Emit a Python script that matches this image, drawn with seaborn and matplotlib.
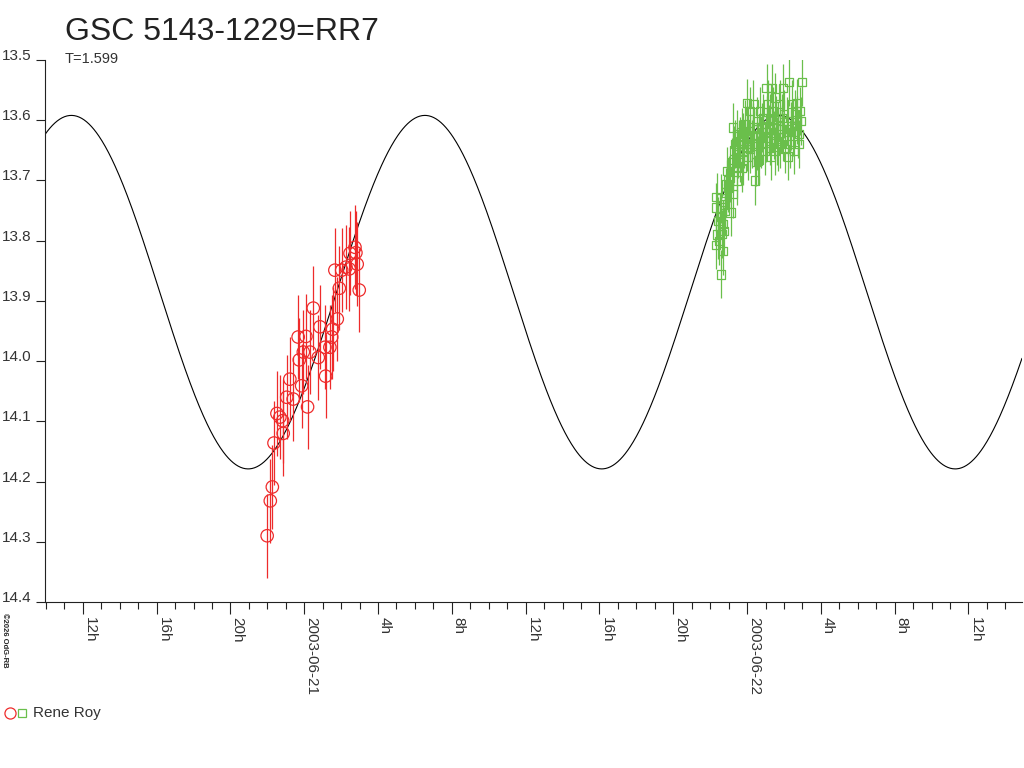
import numpy as np
import pandas as pd
import seaborn as sns
import matplotlib.pyplot as plt
import matplotlib.dates as mdates
from matplotlib.ticker import FuncFormatter
from matplotlib.lines import Line2D

# hours relative to 2003-06-21 00:00, magnitudes
red_hours = [-2.01, -1.84, -1.73, -1.64, -1.48, -1.32, -1.17, -1.14, -0.95, -0.78,
             -0.60, -0.33, -0.27, -0.14, -0.05, 0.09, 0.18, 0.31, 0.49, 0.76,
             0.85, 1.12, 1.16, 1.39, 1.49, 1.54, 1.66, 1.79, 1.90, 2.03,
             2.26, 2.44, 2.48, 2.75, 2.80, 2.87, 2.98]
red_mag = [14.290, 14.232, 14.209, 14.136, 14.087, 14.093, 14.099, 14.120, 14.060, 14.030,
           14.063, 13.960, 13.998, 14.041, 13.985, 13.959, 14.076, 13.985, 13.912, 13.994,
           13.943, 13.977, 14.025, 13.977, 13.960, 13.947, 13.849, 13.930, 13.879, 13.849,
           13.844, 13.847, 13.821, 13.811, 13.820, 13.839, 13.882]
red_err = 0.07

green_hours = [22.59, 22.31, 22.68, 22.35, 22.31, 22.75, 23.11, 22.80, 22.98, 23.22,
               22.93, 23.17, 23.44, 23.71, 23.25, 23.44, 23.34, 23.62, 23.89, 23.98,
               24.16, 24.34, 24.43, 24.47, 24.66, 24.52, 24.79, 24.70, 25.06, 25.33,
               25.51, 25.15, 25.42, 25.78, 25.96, 26.29, 26.96, 26.42, 26.69, 26.87,
               26.90, 26.60, 26.23, 26.50, 26.78, 25.96, 25.60, 25.24, 25.06, 25.33,
               25.69, 24.34, 24.16, 24.16, 23.79, 23.52, 23.79, 24.97, 25.51, 26.05,
               25.78, 24.70, 23.79, 23.07, 22.89, 22.53, 22.44, 22.62, 22.71, 22.49,
               22.80, 23.25, 23.62, 23.98, 24.07, 24.52, 24.88, 25.24, 25.88, 26.15,
               26.33, 24.61, 23.30, 23.45, 23.55, 23.70, 23.85, 24.00, 24.05, 24.25,
               24.40, 24.55, 24.75, 24.85, 25.00, 25.10, 25.20, 25.30, 25.45, 25.55,
               25.65, 25.90, 26.00, 26.20, 26.40, 26.55, 26.70, 26.80, 22.40, 22.60,
               22.85, 23.00]
green_mag = [13.856, 13.807, 13.817, 13.727, 13.745, 13.784, 13.753, 13.740, 13.712, 13.723,
             13.684, 13.670, 13.677, 13.679, 13.612, 13.623, 13.640, 13.634, 13.607, 13.571,
             13.585, 13.573, 13.700, 13.669, 13.666, 13.643, 13.612, 13.585, 13.546, 13.546,
             13.562, 13.573, 13.585, 13.573, 13.546, 13.536, 13.536, 13.573, 13.571, 13.585,
             13.601, 13.590, 13.620, 13.620, 13.623, 13.628, 13.634, 13.634, 13.620, 13.612,
             13.609, 13.612, 13.628, 13.648, 13.651, 13.656, 13.667, 13.651, 13.651, 13.648,
             13.640, 13.628, 13.628, 13.696, 13.706, 13.761, 13.767, 13.789, 13.772, 13.800,
             13.750, 13.679, 13.662, 13.645, 13.618, 13.601, 13.596, 13.596, 13.596, 13.601,
             13.640, 13.667, 13.650, 13.700, 13.640, 13.620, 13.640, 13.630, 13.660, 13.640,
             13.625, 13.615, 13.640, 13.620, 13.630, 13.600, 13.615, 13.660, 13.625, 13.600,
             13.645, 13.615, 13.590, 13.660, 13.610, 13.650, 13.600, 13.640, 13.790, 13.730,
             13.720, 13.700]
green_err = 0.04

# fitted light curve (T=1.599)
model_mean = 13.8855
model_amp = 0.2935
model_period_h = 19.16
model_max_h = 6.54

y_ticks = [13.5, 13.6, 13.7, 13.8, 13.9, 14.0, 14.1, 14.2, 14.3, 14.4]

t0 = pd.Timestamp('2003-06-21')
x_start = t0 + pd.Timedelta(hours=-14.05)
x_end = t0 + pd.Timedelta(hours=38.9)

red = '#ee2b2b'
green = '#6abf4b'

sns.set_style('white')
plt.rcParams['font.family'] = ['Liberation Sans', 'DejaVu Sans']

fig = plt.figure(figsize=(10.24, 7.68), dpi=100)
ax = fig.add_axes([45 / 1024, 166 / 768, 977 / 1024, 542 / 768])

df_red = pd.DataFrame({'t': t0 + pd.to_timedelta(red_hours, unit='h'), 'mag': red_mag})
df_green = pd.DataFrame({'t': t0 + pd.to_timedelta(green_hours, unit='h'), 'mag': green_mag})

hh = np.linspace(-14.05, 38.9, 1200)
df_model = pd.DataFrame({
    't': t0 + pd.to_timedelta(hh, unit='h'),
    'mag': model_mean - model_amp * np.cos(2 * np.pi * (hh - model_max_h) / model_period_h),
})

sns.lineplot(data=df_model, x='t', y='mag', color='black', lw=0.8, ax=ax, zorder=1)

ax.errorbar(df_red['t'], df_red['mag'], yerr=red_err, fmt='none', ecolor=red, elinewidth=0.9, zorder=2)
ax.errorbar(df_green['t'], df_green['mag'], yerr=green_err, fmt='none', ecolor=green, elinewidth=0.9, zorder=2)

sns.scatterplot(data=df_red, x='t', y='mag', marker='o', s=80, color=red, edgecolor=red, linewidth=0.9, ax=ax, zorder=3)
ax.collections[-1].set_facecolor('none')
sns.scatterplot(data=df_green, x='t', y='mag', marker='s', s=36, color=green, edgecolor=green, linewidth=0.9, ax=ax, zorder=3)
ax.collections[-1].set_facecolor('none')

ax.set_xlim(x_start, x_end)
ax.set_ylim(14.4, 13.5)
ax.set_yticks(y_ticks)
ax.yaxis.set_major_formatter(FuncFormatter(lambda v, p: f'{v:.1f}'))
ax.set_xlabel('')
ax.set_ylabel('')

ax.xaxis.set_major_locator(mdates.HourLocator(byhour=range(0, 24, 4)))
ax.xaxis.set_minor_locator(mdates.HourLocator())


def fmt_time(x, pos):
    hour = int(round((x % 1) * 24)) % 24
    if hour == 0:
        return mdates.num2date(round(x * 24) / 24).strftime('%Y-%m-%d')
    return f'{hour}h'


ax.xaxis.set_major_formatter(FuncFormatter(fmt_time))

for s in ['top', 'right']:
    ax.spines[s].set_visible(False)
for s in ['left', 'bottom']:
    ax.spines[s].set_color('#222222')
    ax.spines[s].set_linewidth(0.8)

ax.tick_params(axis='y', which='major', direction='out', length=6.5, width=0.8, pad=3,
               labelsize=11, color='#222222', labelcolor='#333333', left=True)
ax.tick_params(axis='x', which='major', direction='out', length=8.5, width=0.8, pad=2,
               labelsize=11, color='#222222', labelcolor='#333333', bottom=True)
ax.tick_params(axis='x', which='minor', direction='out', length=5, width=0.8,
               color='#222222', bottom=True)
for lab in ax.get_yticklabels():
    lab.set_verticalalignment('baseline')
for lab in ax.get_xticklabels():
    lab.set_rotation(270)
    lab.set_horizontalalignment('left')
    lab.set_verticalalignment('top')

fig.text(65 / 1024, 1 - 40 / 768, 'GSC 5143-1229=RR7', fontsize=23, color='#222222', va='baseline')
fig.text(65 / 1024, 1 - 63 / 768, 'T=1.599', fontsize=10.5, color='#333333', va='baseline')
fig.text(1 / 1024, 1 - 613 / 768, '\u00a92026 OdG-RB', fontsize=5.5, rotation=270,
         va='top', ha='left', color='#222222', fontweight='bold')

fig.add_artist(Line2D([9.5 / 1024], [1 - 713 / 768], marker='o', ms=8, mfc='none', mec=red, mew=0.9,
                      transform=fig.transFigure))
fig.add_artist(Line2D([21.5 / 1024], [1 - 713 / 768], marker='s', ms=5.5, mfc='none', mec=green, mew=0.9,
                      transform=fig.transFigure))
fig.text(33 / 1024, 1 - 713 / 768, 'Rene Roy', fontsize=11, color='#333333', va='center')

fig.savefig('out.png', dpi=100, facecolor='white')
